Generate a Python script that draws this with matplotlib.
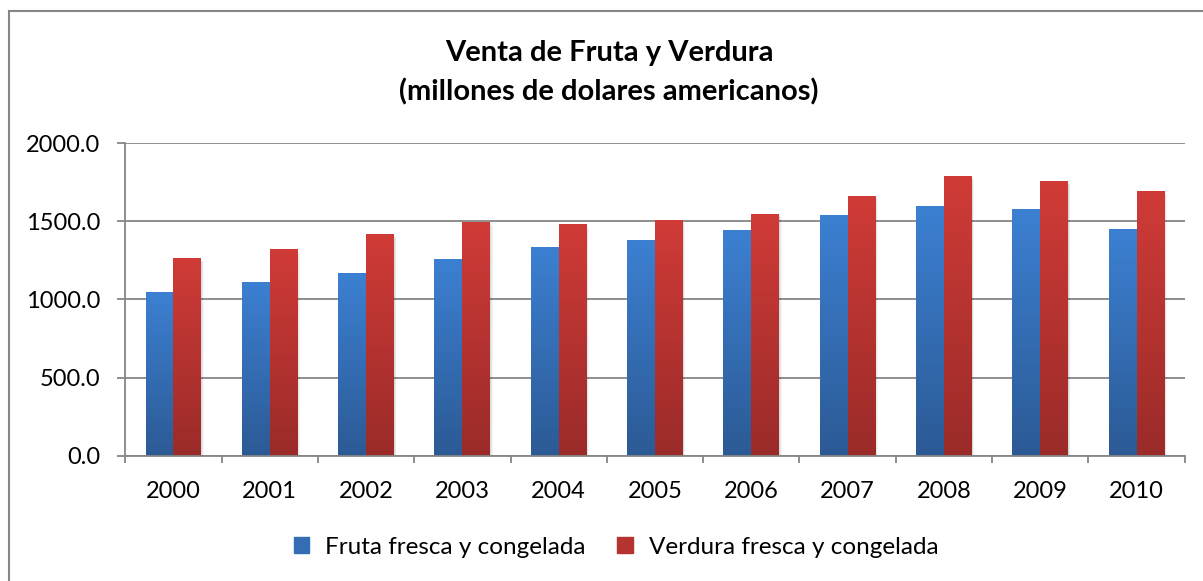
import numpy as np
import matplotlib
matplotlib.use("Agg")
import matplotlib.pyplot as plt
from matplotlib.colors import LinearSegmentedColormap
from matplotlib.patches import Rectangle
from matplotlib.lines import Line2D

years = ["2000", "2001", "2002", "2003", "2004", "2005", "2006", "2007", "2008", "2009", "2010"]
fruta = [1044, 1108, 1166, 1255, 1338, 1377, 1441, 1537, 1594, 1581, 1447]
verdura = [1262, 1319, 1415, 1496, 1479, 1505, 1549, 1664, 1786, 1754, 1696]
series_names = ["Fruta fresca y congelada", "Verdura fresca y congelada"]
yticks = [0, 500, 1000, 1500, 2000]

plt.rcParams['font.family'] = ['Lato', 'DejaVu Sans']

W, H = 1203, 581
fig = plt.figure(figsize=(W / 100, H / 100), dpi=100)
fig.patch.set_facecolor("white")

# plot area in pixels
left, right, top, bottom = 125.3, 1184.7, 143.0, 455.7
ax = fig.add_axes([left / W, 1 - bottom / H, (right - left) / W, (bottom - top) / H])

grey = "#868686"
x = np.arange(len(years))
bw = 0.29

blue_cm = LinearSegmentedColormap.from_list("b", ["#2c5a95", "#3c80d2"])
red_cm = LinearSegmentedColormap.from_list("r", ["#9a2b29", "#d03b37"])

grad = np.linspace(0, 1, 256).reshape(-1, 1)

def draw_series(xs, vals, cmap):
    bars = ax.bar(xs, vals, width=bw, color=cmap(0.6), zorder=3, linewidth=0)
    for b in bars:
        bx, by = b.get_x(), b.get_y()
        bwid, bh = b.get_width(), b.get_height()
        # soft shadow
        for k, a in enumerate([0.06, 0.05, 0.04]):
            off = 0.008 * (k + 1)
            sh = Rectangle((bx + off, by - 8 * (k + 1)), bwid, bh, color="black",
                           alpha=a, linewidth=0, zorder=2.5)
            ax.add_patch(sh)
        im = ax.imshow(grad, cmap=cmap, aspect="auto", origin="lower",
                       extent=[bx, bx + bwid, by, by + bh], zorder=3.1)
        im.set_clip_path(b)
    return bars

draw_series(x - bw / 2, fruta, blue_cm)
draw_series(x + bw / 2, verdura, red_cm)

ax.set_xlim(-0.5, len(years) - 0.5)
ax.set_ylim(0, 2000)
ax.set_yticks(yticks)
ax.set_yticklabels(["%.1f" % v for v in yticks], fontsize=17)
ax.set_xticks(x)
ax.set_xticklabels(years, fontsize=17)
ax.set_xticks(np.arange(-0.5, len(years)), minor=True)
ax.tick_params(axis="x", which="major", length=0, pad=18)
ax.tick_params(axis="x", which="minor", length=5, width=1.3, color=grey)
ax.tick_params(axis="y", length=6, width=1.3, color=grey, pad=12)
ax.yaxis.grid(True, color=grey, linewidth=1.3, zorder=1)
ax.set_axisbelow(True)
for s in ["top", "right"]:
    ax.spines[s].set_visible(False)
for s in ["left", "bottom"]:
    ax.spines[s].set_color(grey)
    ax.spines[s].set_linewidth(1.3)
    ax.spines[s].set_zorder(4)

fig.text(609 / W, 1 - 73 / H, "Venta de Fruta y Verdura\n(millones de dolares americanos)",
         ha="center", va="center", fontsize=21, fontweight="bold", linespacing=1.55)

handles = [Rectangle((0, 0), 1, 1, color=blue_cm(0.5)), Rectangle((0, 0), 1, 1, color=red_cm(0.5))]
fig.legend(handles, series_names, loc="center", bbox_to_anchor=(616 / W, 1 - 547 / H),
           ncol=2, frameon=False, fontsize=17.5, handlelength=0.65, handleheight=0.65,
           handletextpad=0.65, columnspacing=1.3)

# chart border (top and left visible)
fig.add_artist(Line2D([8.5 / W, 8.5 / W], [0, 1 - 10.5 / H], color=grey, linewidth=1.5))
fig.add_artist(Line2D([8.5 / W, 1], [1 - 10.5 / H, 1 - 10.5 / H], color=grey, linewidth=1.5))

fig.savefig("out.png", dpi=100)
